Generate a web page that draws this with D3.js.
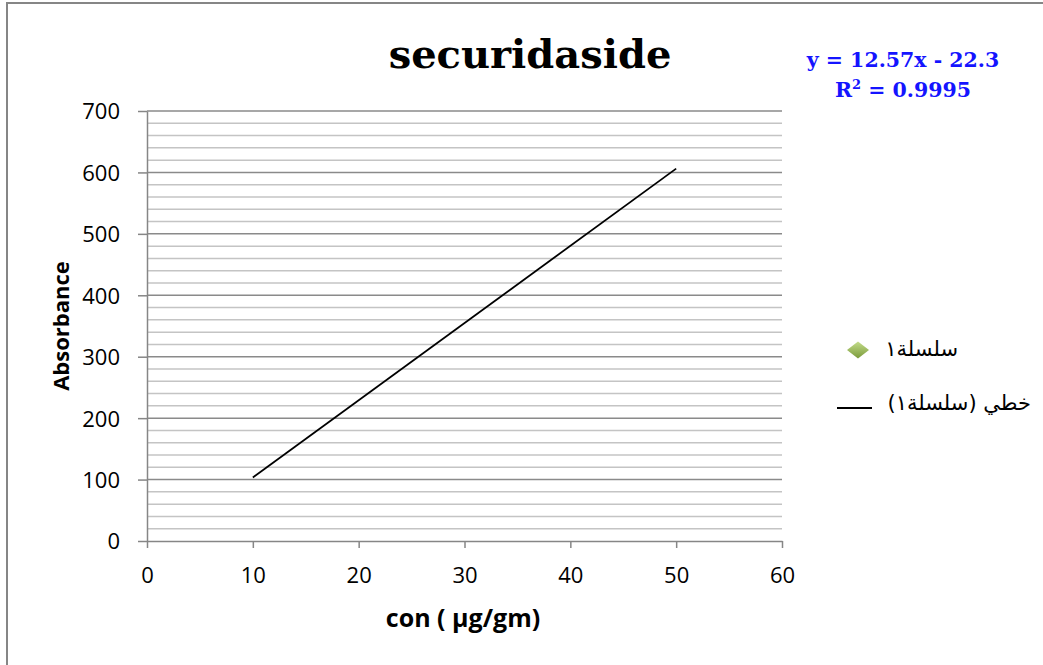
<!DOCTYPE html>
<html>
<head>
<meta charset="utf-8">
<script src="https://cdn.jsdelivr.net/npm/d3@7"></script>
<style>
  html, body { margin: 0; padding: 0; background: #fff; }
  svg { display: block; }
</style>
</head>
<body>
<svg id="chart" width="1043" height="665"></svg>
<script>
// Calibration curve: linear trendline of absorbance vs concentration
const xTicks = [0, 10, 20, 30, 40, 50, 60];
const yTicks = [0, 100, 200, 300, 400, 500, 600, 700];
const concRange = [10, 50];          // concentration span covered by the trendline
const slope = [12.57];
const intercept = [-22.3];
const rSquared = [0.9995];
const titleText = "securidaside";
const xTitle = "con ( µg/gm)";
const yTitle = "Absorbance";
const legendSeries = "سلسلة١";
const legendTrend = "خطي (سلسلة١)";

const svg = d3.select("#chart");
const W = 1043, H = 665;
const plotL = 147, plotR = 782, plotT = 111, plotB = 541;

// outer chart frame
svg.append("rect")
  .attr("x", 7).attr("y", 3)
  .attr("width", W + 10).attr("height", H + 10)
  .attr("fill", "#fff").attr("stroke", "#868686").attr("stroke-width", 2);

const x = d3.scaleLinear().domain([0, 60]).range([plotL, plotR]);
const y = d3.scaleLinear().domain([0, 700]).range([plotB, plotT]);

// minor gridlines every 20
const minor = d3.range(20, 700, 20).filter(v => v % 100 !== 0);
svg.append("g").selectAll("line").data(minor).join("line")
  .attr("x1", plotL).attr("x2", plotR)
  .attr("y1", d => y(d)).attr("y2", d => y(d))
  .attr("stroke", "#c4c4c4").attr("stroke-width", 1.5);

// major gridlines
svg.append("g").selectAll("line").data(yTicks.slice(1)).join("line")
  .attr("x1", plotL).attr("x2", plotR)
  .attr("y1", d => y(d)).attr("y2", d => y(d))
  .attr("stroke", "#8a8a8a").attr("stroke-width", 1.5);

const tickFont = "'Open Sans', 'Liberation Sans', sans-serif";

// y axis
const yAxis = svg.append("g")
  .attr("transform", `translate(${plotL},0)`)
  .call(d3.axisLeft(y).tickValues(yTicks).tickSize(9).tickSizeOuter(0));
yAxis.select(".domain").attr("stroke", "#868686").attr("stroke-width", 1.5);
yAxis.selectAll(".tick line").attr("stroke", "#868686").attr("stroke-width", 1.5);
yAxis.selectAll(".tick text")
  .attr("font-family", tickFont).attr("font-size", 22).attr("fill", "#000")
  .attr("x", -27).attr("dy", "0.36em");

// x axis
const xAxis = svg.append("g")
  .attr("transform", `translate(0,${plotB})`)
  .call(d3.axisBottom(x).tickValues(xTicks).tickSize(7).tickSizeOuter(0));
xAxis.select(".domain").attr("stroke", "#868686").attr("stroke-width", 1.5);
xAxis.selectAll(".tick line").attr("stroke", "#868686").attr("stroke-width", 1.5);
xAxis.selectAll(".tick text")
  .attr("font-family", tickFont).attr("font-size", 22).attr("fill", "#000")
  .attr("y", 42).attr("dy", 0);

// trendline
const fit = v => slope[0] * v + intercept[0];
svg.append("path")
  .datum(concRange)
  .attr("d", d3.line().x(d => x(d)).y(d => y(fit(d))))
  .attr("fill", "none").attr("stroke", "#000").attr("stroke-width", 1.8);

// title
svg.append("text")
  .attr("x", 530).attr("y", 68)
  .attr("text-anchor", "middle")
  .attr("font-family", "'DejaVu Serif', serif").attr("font-weight", "bold")
  .attr("font-size", 40).attr("fill", "#000")
  .text(titleText);

// axis titles
svg.append("text")
  .attr("x", 463).attr("y", 627)
  .attr("text-anchor", "middle")
  .attr("font-family", tickFont).attr("font-weight", "bold")
  .attr("font-size", 25).attr("fill", "#000")
  .text(xTitle);

svg.append("text")
  .attr("transform", "translate(69,326) rotate(-90)")
  .attr("text-anchor", "middle")
  .attr("font-family", tickFont).attr("font-weight", "bold")
  .attr("font-size", 22).attr("fill", "#000")
  .text(yTitle);

// trendline equation
const eq = svg.append("text")
  .attr("text-anchor", "middle")
  .attr("font-family", "'DejaVu Serif', serif").attr("font-weight", "bold")
  .attr("font-size", 20.5).attr("fill", "#1414ff");
eq.append("tspan").attr("x", 903).attr("y", 67)
  .text(`y = ${slope[0]}x - ${Math.abs(intercept[0])}`);
const r2 = eq.append("tspan").attr("x", 903).attr("y", 97);
r2.append("tspan").text("R");
r2.append("tspan").attr("dy", -8).attr("font-size", 13).text("2");
r2.append("tspan").attr("dy", 8).text(` = ${rSquared[0]}`);

// legend
const diamond = svg.append("defs").append("linearGradient")
  .attr("id", "gm").attr("x1", 0).attr("y1", 0).attr("x2", 0).attr("y2", 1);
diamond.append("stop").attr("offset", "0%").attr("stop-color", "#c3dc8a");
diamond.append("stop").attr("offset", "100%").attr("stop-color", "#7a9a3a");

svg.append("path")
  .attr("d", d3.symbol(d3.symbolDiamond2, 309)())
  .attr("transform", "translate(858,350) scale(1,0.77)")
  .attr("fill", "url(#gm)");

const RLM = "\u200F";
svg.append("text")
  .attr("x", 958).attr("y", 356)
  .attr("text-anchor", "end")
  .attr("font-family", "'DejaVu Sans', sans-serif")
  .attr("font-size", 21).attr("fill", "#000")
  .text(RLM + legendSeries + RLM);

svg.append("line")
  .attr("x1", 837).attr("x2", 872).attr("y1", 408).attr("y2", 408)
  .attr("stroke", "#000").attr("stroke-width", 1.8);

svg.append("text")
  .attr("x", 1031).attr("y", 410)
  .attr("text-anchor", "end")
  .attr("font-family", "'DejaVu Sans', sans-serif")
  .attr("font-size", 21).attr("fill", "#000")
  .text(RLM + legendTrend + RLM);
</script>
</body>
</html>
